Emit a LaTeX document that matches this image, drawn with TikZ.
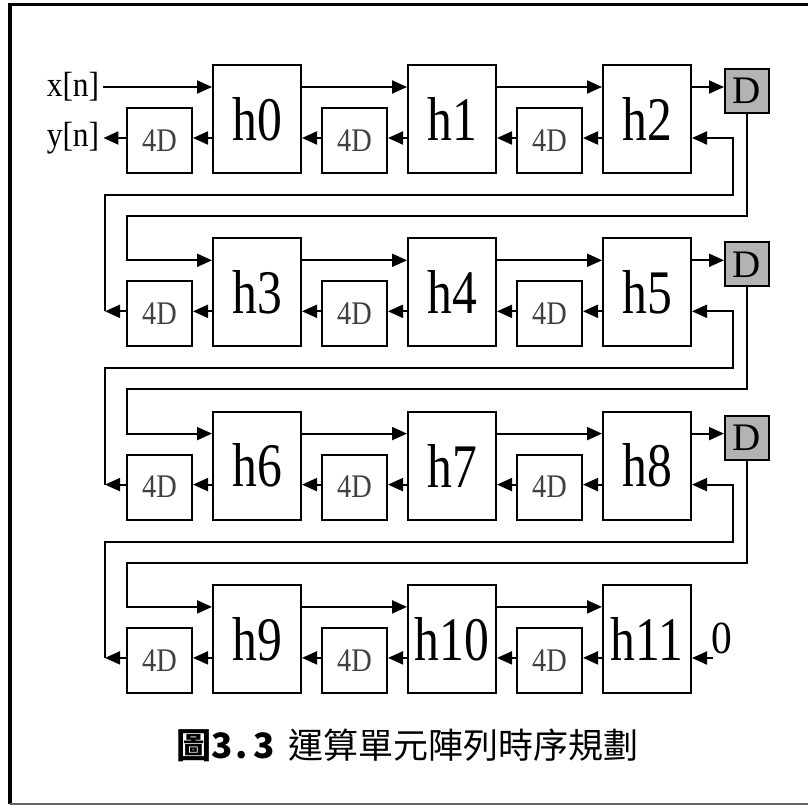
\documentclass[tikz,border=0pt]{standalone}
\usepackage{fontspec}
\usetikzlibrary{arrows.meta}
\newfontfamily\hfont[FakeStretch=0.8]{Liberation Serif}
\newfontfamily\dfont[FakeStretch=0.86]{Liberation Serif}
\newfontfamily\lfont[FakeStretch=0.9]{Liberation Serif}
\newfontfamily\gfont{Liberation Serif}
\newfontfamily\cjk{Noto Sans CJK TC}
\definecolor{dgray}{HTML}{B3B3B3}
\tikzset{
  hbox/.style={draw, line width=2pt, minimum width=88pt, minimum height=108pt, inner sep=0pt, font=\hfont\fontsize{62}{62}\selectfont},
  dbox/.style={draw, line width=2pt, minimum width=65pt, minimum height=65pt, inner sep=0pt, text=black!75, font=\dfont\fontsize{33}{33}\selectfont},
  gbox/.style={draw, fill=dgray, line width=2pt, minimum width=44pt, minimum height=44pt, inner sep=0pt, font=\gfont\fontsize{39}{39}\selectfont},
  lbl/.style={inner sep=0pt, font=\lfont\fontsize{35}{35}\selectfont},
  arr/.style={line width=2pt, -{Triangle[length=15pt,width=13pt]}},
  wire/.style={line width=2pt},
}
\begin{document}
\begin{tikzpicture}[x=1pt,y=-1pt]
\useasboundingbox (0,0) rectangle (808,805);
% frame
\draw[line width=3pt] (808,4.5) -- (10,4.5);
\draw[line width=3.5pt] (10,3) -- (10,804);
\draw[line width=1.5pt, black!60] (10,804) -- (808,804);

% rows
\foreach \r in {0,1,2,3}{
  \pgfmathsetmacro{\yc}{119+173.3*\r}
  \pgfmathsetmacro{\yd}{140.5+173.3*\r}
  \pgfmathsetmacro{\yt}{87+173.3*\r}
  \pgfmathsetmacro{\yb}{138+173.3*\r}
  \coordinate (t\r) at (0,\yt);
  \coordinate (b\r) at (0,\yb);
  \coordinate (L\r) at (105,\yb);
  \pgfmathtruncatemacro{\ia}{3*\r}
  \pgfmathtruncatemacro{\ib}{3*\r+1}
  \pgfmathtruncatemacro{\ic}{3*\r+2}
  \node[hbox] (h\ia) at (257,\yc) {h\ia};
  \node[hbox] (h\ib) at (452,\yc) {h\ib};
  \node[hbox] (h\ic) at (647,\yc) {h\ic};
  \node[dbox] (da\r) at (159.5,\yd) {4D};
  \node[dbox] (db\r) at (354.5,\yd) {4D};
  \node[dbox] (dc\r) at (549.5,\yd) {4D};
  % forward
  \draw[arr] (h\ia.east |- t\r) -- (h\ib.west |- t\r);
  \draw[arr] (h\ib.east |- t\r) -- (h\ic.west |- t\r);
  % backward
  \draw[arr] (h\ic.west |- b\r) -- (dc\r.east |- b\r);
  \draw[arr] (dc\r.west |- b\r) -- (h\ib.east |- b\r);
  \draw[arr] (h\ib.west |- b\r) -- (db\r.east |- b\r);
  \draw[arr] (db\r.west |- b\r) -- (h\ia.east |- b\r);
  \draw[arr] (h\ia.west |- b\r) -- (da\r.east |- b\r);
}

% D boxes and feedback
\foreach \r/\n in {0/1,1/2,2/3}{
  \pgfmathsetmacro{\yg}{91+173.3*\r}
  \pgfmathsetmacro{\yo}{195+173.3*\r}
  \pgfmathsetmacro{\yi}{216+173.3*\r}
  \pgfmathtruncatemacro{\ic}{3*\r+2}
  \pgfmathtruncatemacro{\inx}{3*\n}
  \node[gbox] (D\r) at (747,\yg) {D};
  \coordinate (ci\r) at (127,\yi);
  \coordinate (co\r) at (733,\yo);
  \draw[arr] (h\ic.east |- t\r) -- (D\r.west |- t\r);
  \draw[arr] (D\r.south) |- (ci\r) |- (h\inx.west |- t\n);
  \draw[arr] (da\n.west |- b\n) -- (L\n);
  \draw[arr] (L\n) |- (co\r) |- (h\ic.east |- b\r);
}

% inputs / outputs
\node[lbl] (xn) at (73,87) {x[n]};
\node[lbl] (yn) at (73,138) {y[n]};
\draw[arr] ([xshift=4pt]xn.east) -- (h0.west |- t0);
\draw[arr] (da0.west |- b0) -- ([xshift=4pt]yn.east);
\node[lbl, font=\lfont\fontsize{46}{46}\selectfont] (zero) at (722,638) {0};
\coordinate (zin) at (713,658);
\draw[arr] (zin) -- (h11.east |- zin);

% caption
\node[inner sep=0pt, font=\cjk\fontsize{35}{35}\selectfont] (cap) at (407.5,745)
  {{\bfseries 圖3\hspace{3pt}.\hspace{6pt}3}\hspace{14pt}運算單元陣列時序規劃};
\end{tikzpicture}
\end{document}
